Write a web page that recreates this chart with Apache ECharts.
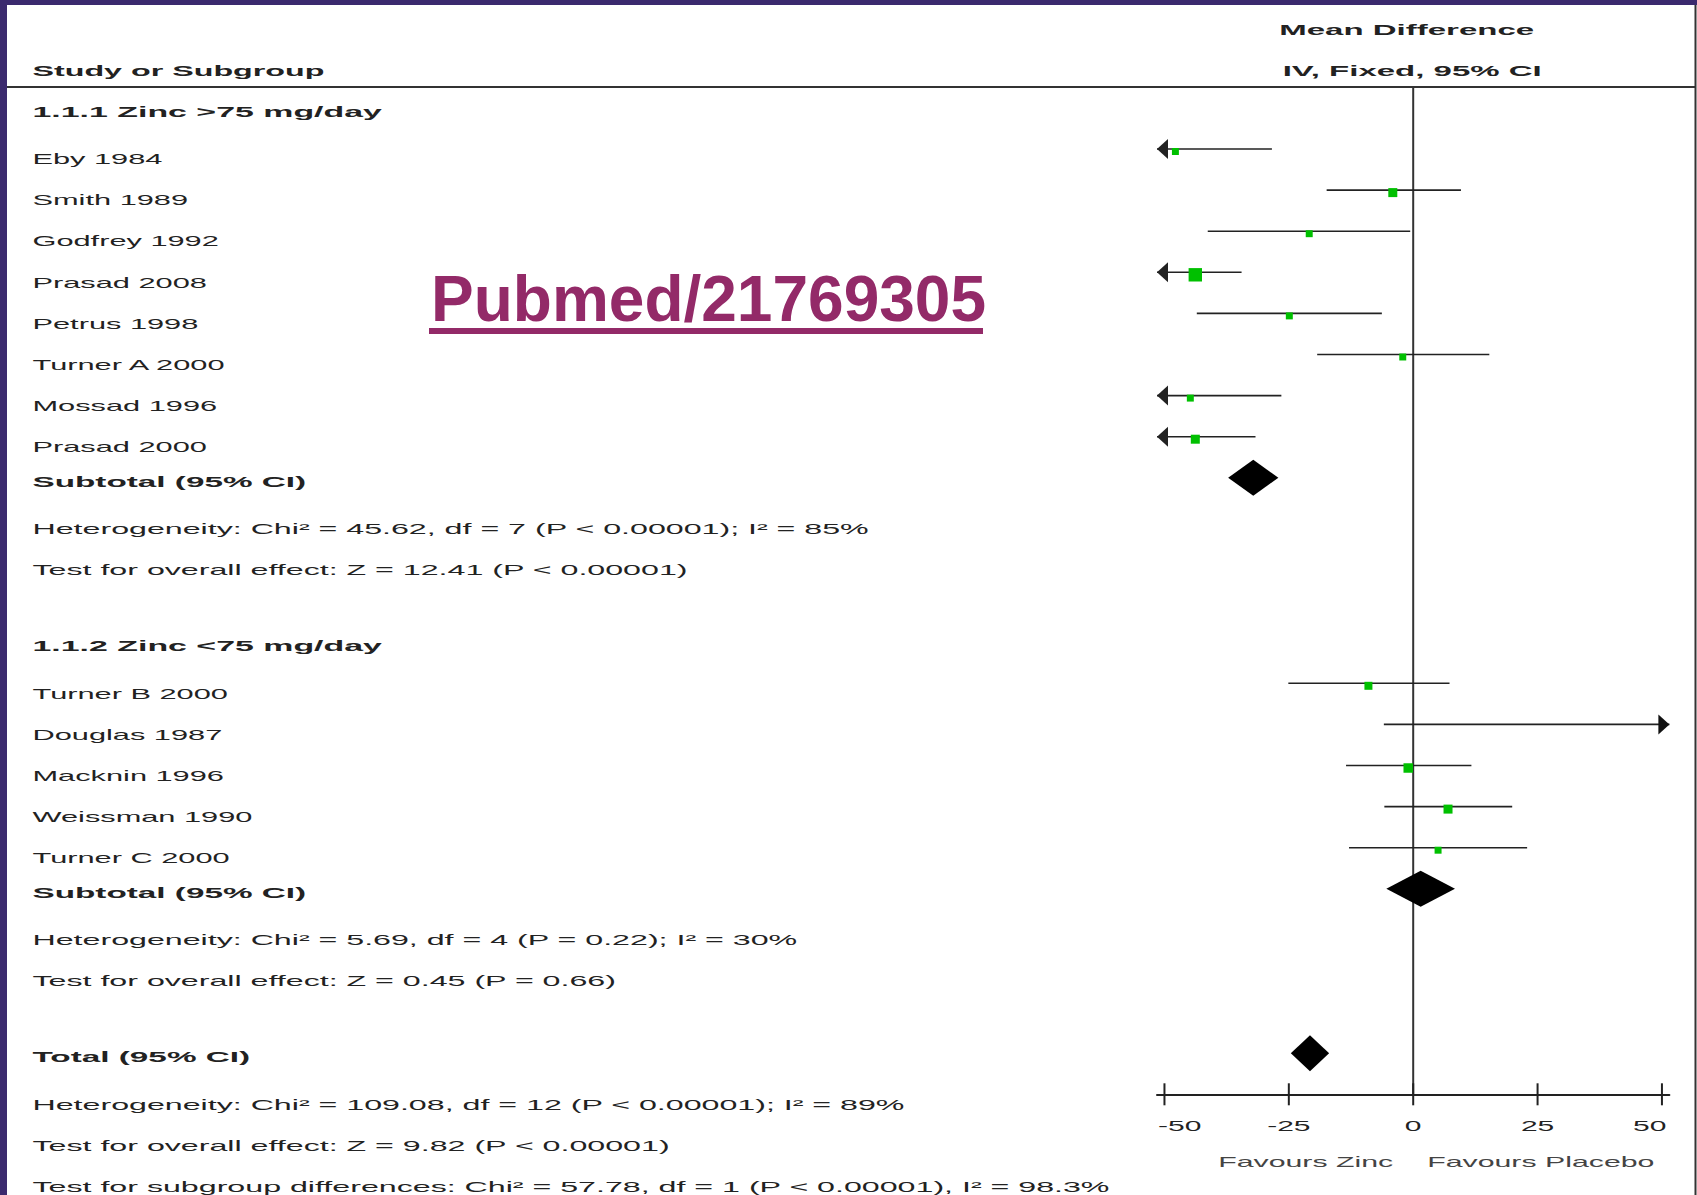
<!DOCTYPE html>
<html>
<head>
<meta charset="utf-8">
<script src="https://cdn.jsdelivr.net/npm/echarts@6/dist/echarts.min.js"></script>
<style>
html,body{margin:0;padding:0;background:#fff;}
#chart{width:1697px;height:1195px;}
</style>
</head>
<body>
<div id="chart"></div>
<script>
// ---------------- DATA ----------------
const studyNames   = ['Eby 1984','Smith 1989','Godfrey 1992','Prasad 2008','Petrus 1998','Turner A 2000','Mossad 1996','Prasad 2000',
                      'Turner B 2000','Douglas 1987','Macknin 1996','Weissman 1990','Turner C 2000'];
const studyMeans   = [-47.8, -4.1, -20.9, -43.8, -24.9, -2.1, -44.8, -43.8, -9.0, 60.0, -1.0, 7.0, 5.0];
const studyLowers  = [-67.2, -17.4, -41.3, -53.1, -43.5, -19.3, -63.1, -55.9, -25.1, -5.9, -13.5, -5.8, -12.9];
const studyUppers  = [-28.4, 9.6, -0.6, -34.5, -6.3, 15.3, -26.5, -31.7, 7.3, 125.9, 11.7, 19.9, 22.9];
const studyWeights = [5.4, 9, 5.4, 20, 5.4, 5.4, 5.4, 9, 7.1, 3, 10, 9, 5.4];
const studyRows    = [0, 1, 2, 3, 4, 5, 6, 7, 13, 14, 15, 16, 17];

const pooledLabels = ['Subtotal (95% CI)', 'Subtotal (95% CI)', 'Total (95% CI)'];
const pooledMeans  = [-32.15, 1.5, -20.75];
const pooledLowers = [-37.2, -5.4, -24.6];
const pooledUppers = [-27.1, 8.4, -16.9];
const pooledRows   = [8, 18, 22];

const sectionTitles = ['1.1.1 Zinc >75 mg/day', '1.1.2 Zinc <75 mg/day'];
const sectionRows   = [-1, 12];

const statTexts = [
  'Heterogeneity: Chi\u00b2 = 45.62, df = 7 (P < 0.00001); I\u00b2 = 85%',
  'Test for overall effect: Z = 12.41 (P < 0.00001)',
  'Heterogeneity: Chi\u00b2 = 5.69, df = 4 (P = 0.22); I\u00b2 = 30%',
  'Test for overall effect: Z = 0.45 (P = 0.66)',
  'Heterogeneity: Chi\u00b2 = 109.08, df = 12 (P < 0.00001); I\u00b2 = 89%',
  'Test for overall effect: Z = 9.82 (P < 0.00001)',
  'Test for subgroup differences: Chi\u00b2 = 57.78, df = 1 (P < 0.00001), I\u00b2 = 98.3%'
];
const statRows = [9, 10, 19, 20, 23, 24, 25];

const leftHeader  = 'Study or Subgroup';
const leftHeaderRow = -2;
const plotHeaders = ['Mean Difference', 'IV, Fixed, 95% CI'];
const plotHeaderRows = [-3, -2];

const tickValues = [-50, -25, 0, 25, 50];
const tickLabels = ['-50', '-25', '0', '25', '50'];
const favourLabels = ['Favours Zinc', 'Favours Placebo'];
const watermarkText = 'Pubmed/21769305';

// ---------------- LAYOUT / STYLE ----------------
const AX_MIN = -51.5, AX_MAX = 51.5;
const ROW_MIN = -1.5, ROW_MAX = 23;
const FONT = '"Liberation Sans", Arial, Helvetica, sans-serif';
const TXT = '#222';
const GRID_TOP = 87.35, GRID_H = 1006.95;
const HEADER_DX = [-6.5, -1];

const leftTexts = [];
leftTexts.push({text: leftHeader, row: leftHeaderRow, kind: 'head'});
sectionTitles.forEach((t, i) => leftTexts.push({text: t, row: sectionRows[i], kind: 'section'}));
studyNames.forEach((t, i) => leftTexts.push({text: t, row: studyRows[i], kind: 'name'}));
pooledLabels.forEach((t, i) => leftTexts.push({text: t, row: pooledRows[i], kind: 'bold'}));
statTexts.forEach((t, i) => leftTexts.push({text: t, row: statRows[i], kind: 'stat'}));

const KIND = {
  head:    {font: 'bold 15px ' + FONT, sx: 2.15, dy: 4},
  section: {font: 'bold 15px ' + FONT, sx: 2.26, dy: 4},
  bold:    {font: 'bold 15px ' + FONT, sx: 2.22, dy: 4},
  name:    {font: '15px ' + FONT, sx: 2.05, dy: 10},
  stat:    {font: '15px ' + FONT, sx: 2.145, dy: 10}
};

function textEl(x, y, text, font, sx, align, fill) {
  return {
    type: 'text', x: x, y: y, scaleX: sx, silent: true,
    style: {text: text, x: 0, y: 0, fill: fill || TXT, font: font,
            align: align, verticalAlign: 'middle', textAlign: align, textVerticalAlign: 'middle'}
  };
}

const chart = echarts.init(document.getElementById('chart'), null, {renderer: 'svg'});

const option = {
  animation: false,
  backgroundColor: '#fff',
  grid: [
    {left: 1157, width: 512.4, top: GRID_TOP, height: GRID_H},
    {left: 32.5, width: 1000, top: GRID_TOP, height: GRID_H}
  ],
  xAxis: [
    {type: 'value', gridIndex: 0, min: AX_MIN, max: AX_MAX, position: 'bottom',
     axisLine: {show: true, onZero: false, lineStyle: {color: '#222', width: 2}},
     axisTick: {show: false}, axisLabel: {show: false}, splitLine: {show: false}},
    {type: 'value', gridIndex: 1, min: 0, max: 1, show: false}
  ],
  yAxis: [
    {type: 'value', gridIndex: 0, min: ROW_MIN, max: ROW_MAX, inverse: true, show: false},
    {type: 'value', gridIndex: 1, min: ROW_MIN, max: ROW_MAX, inverse: true, show: false}
  ],
  graphic: [
    {type: 'rect', shape: {x: 0, y: 0, width: 1697, height: 5}, style: {fill: '#3b2a6e'}, z: 10},
    {type: 'rect', shape: {x: 0, y: 0, width: 7, height: 1195}, style: {fill: '#3b2a6e'}, z: 10},
    {type: 'line', shape: {x1: 7, y1: 87, x2: 1696, y2: 87}, style: {stroke: '#333', lineWidth: 2}},
    {type: 'line', shape: {x1: 1695.5, y1: 5, x2: 1695.5, y2: 1195}, style: {stroke: '#333', lineWidth: 2}},
    {type: 'text', x: 431, y: 299,
     style: {text: watermarkText, fill: '#932a68', font: 'bold 64px ' + FONT,
             align: 'left', verticalAlign: 'middle', textAlign: 'left', textVerticalAlign: 'middle'}},
    {type: 'rect', shape: {x: 429, y: 328, width: 554, height: 6}, style: {fill: '#932a68'}}
  ],
  series: [
    // zero line
    {type: 'custom', xAxisIndex: 0, yAxisIndex: 0, silent: true, data: [[0]],
     renderItem: function (params, api) {
       const a = api.coord([api.value(0), ROW_MIN]);
       const b = api.coord([api.value(0), ROW_MAX]);
       return {type: 'line', shape: {x1: a[0], y1: a[1], x2: b[0], y2: b[1]}, style: {stroke: '#333', lineWidth: 2}};
     }},
    // studies
    {type: 'custom', name: 'Studies', xAxisIndex: 0, yAxisIndex: 0, silent: true,
     encode: {x: [1, 2], y: 3},
     data: studyNames.map((n, i) => [studyMeans[i], studyLowers[i], studyUppers[i], studyRows[i], studyWeights[i]]),
     renderItem: function (params, api) {
       const mean = api.value(0), lo = api.value(1), hi = api.value(2), row = api.value(3), w = api.value(4);
       const loC = Math.max(lo, AX_MIN), hiC = Math.min(hi, AX_MAX);
       const p1 = api.coord([loC, row]), p2 = api.coord([hiC, row]);
       const ch = [{type: 'line', shape: {x1: p1[0], y1: p1[1], x2: p2[0], y2: p2[1]}, style: {stroke: '#222', lineWidth: 1.6}}];
       if (lo < AX_MIN) ch.push({type: 'polygon', shape: {points: [[p1[0], p1[1]], [p1[0] + 11, p1[1] - 10], [p1[0] + 11, p1[1] + 10]]}, style: {fill: '#222'}});
       if (hi > AX_MAX) ch.push({type: 'polygon', shape: {points: [[p2[0], p2[1]], [p2[0] - 11, p2[1] - 10], [p2[0] - 11, p2[1] + 10]]}, style: {fill: '#111'}});
       if (mean >= AX_MIN && mean <= AX_MAX) {
         const c = api.coord([mean, row]);
         const s = 3 * Math.sqrt(w);
         ch.push({type: 'rect', shape: {x: c[0] - s / 2, y: c[1] + 2.5 - s / 2, width: s, height: s}, style: {fill: '#00c000'}});
       }
       return {type: 'group', children: ch};
     }},
    // pooled diamonds
    {type: 'custom', name: 'Pooled', xAxisIndex: 0, yAxisIndex: 0, silent: true,
     encode: {x: [1, 2], y: 3},
     data: pooledMeans.map((m, i) => [m, pooledLowers[i], pooledUppers[i], pooledRows[i]]),
     renderItem: function (params, api) {
       const m = api.coord([api.value(0), api.value(3)]);
       const l = api.coord([api.value(1), api.value(3)]);
       const r = api.coord([api.value(2), api.value(3)]);
       return {type: 'polygon', shape: {points: [[l[0], l[1]], [m[0], m[1] - 18], [r[0], r[1]], [m[0], m[1] + 18]]}, style: {fill: '#000'}};
     }},
    // ticks and tick labels
    {type: 'custom', xAxisIndex: 0, yAxisIndex: 0, silent: true,
     data: tickValues.map(v => [v]),
     renderItem: function (params, api) {
       const v = api.value(0);
       const p = api.coord([v, ROW_MAX]);
       const i = params.dataIndex, n = tickValues.length;
       let lx = p[0], al = 'center';
       if (i === 0) { lx = api.coord([AX_MIN, ROW_MAX])[0] + 1; al = 'left'; }
       if (i === n - 1) { lx = api.coord([AX_MAX, ROW_MAX])[0] - 3; al = 'right'; }
       return {type: 'group', children: [
         {type: 'line', shape: {x1: p[0], y1: p[1] - 11, x2: p[0], y2: p[1] + 11}, style: {stroke: '#222', lineWidth: 2}},
         textEl(lx, p[1] + 32, tickLabels[i], '15px ' + FONT, 2.0, al)
       ]};
     }},
    // favours labels and column headers
    {type: 'custom', xAxisIndex: 0, yAxisIndex: 0, silent: true, data: [[0]],
     renderItem: function (params, api) {
       const z = api.coord([0, ROW_MAX]);
       const ch = [
         textEl(z[0] - 20, z[1] + 67, favourLabels[0], '15px ' + FONT, 2.02, 'right', '#444'),
         textEl(z[0] + 14, z[1] + 67, favourLabels[1], '15px ' + FONT, 2.02, 'left', '#444')
       ];
       plotHeaders.forEach((h, k) => {
         const p = api.coord([0, plotHeaderRows[k]]);
         ch.push(textEl(p[0] + HEADER_DX[k], p[1] + 4, h, 'bold 15px ' + FONT, 2.2, 'center'));
       });
       return {type: 'group', children: ch};
     }},
    // left column texts
    {type: 'custom', xAxisIndex: 1, yAxisIndex: 1, silent: true,
     data: leftTexts.map(t => [0, t.row]),
     renderItem: function (params, api) {
       const t = leftTexts[params.dataIndex];
       const k = KIND[t.kind];
       const p = api.coord([api.value(0), api.value(1)]);
       return textEl(p[0], p[1] + k.dy, t.text, k.font, k.sx, 'left');
     }}
  ]
};
chart.setOption(option);
</script>
</body>
</html>
